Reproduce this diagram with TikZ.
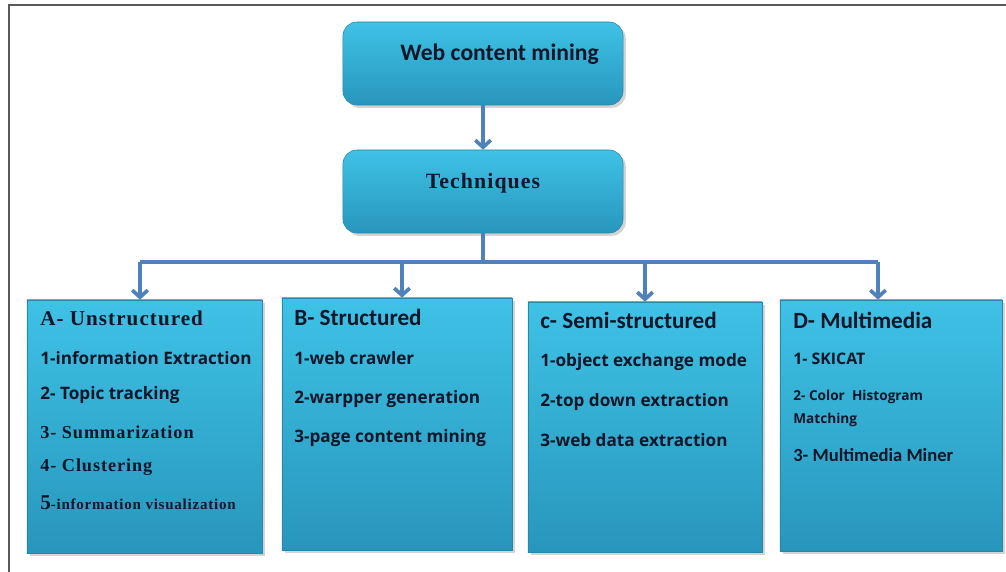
\documentclass[tikz,border=0pt]{standalone}
\usepackage{fontspec}
\usepackage{tikz}
\usetikzlibrary{arrows.meta}
\usetikzlibrary{shadows}
\newfontfamily\calib{Carlito}
\newfontfamily\opsans{Open Sans}
\newfontfamily\timesw[LetterSpace=5]{Liberation Serif}
\definecolor{boxtop}{RGB}{62,194,230}
\definecolor{boxbot}{RGB}{40,150,188}
\definecolor{boxedge}{RGB}{38,135,170}
\definecolor{linkblue}{RGB}{79,129,189}
\definecolor{ink}{RGB}{14,22,40}

\begin{document}
\begin{tikzpicture}[x=0.025cm,y=-0.025cm,
  box/.style={draw=boxedge,line width=0.4pt,top color=boxtop,bottom color=boxbot,
    drop shadow={shadow xshift=2pt,shadow yshift=-2pt,opacity=0.35}},
  topbox/.style={box,rounded corners=0.35cm,minimum width=7cm,minimum height=2.075cm},
  link/.style={draw=linkblue,line width=2.6pt},
  arr/.style={link,-{Straight Barb[length=5pt,width=11pt,line width=2.6pt]}},
  item/.style={anchor=west,inner sep=0pt,text=ink,font=\opsans\bfseries\fontsize{12.2}{14}\selectfont},
  head/.style={anchor=west,inner sep=0pt,text=ink,font=\calib\bfseries\fontsize{16.5}{19}\selectfont},
  serif/.style={anchor=west,inner sep=0pt,text=ink,font=\timesw\bfseries\fontsize{13}{15}\selectfont}]
\useasboundingbox (0,0) rectangle (1006,572);
\draw[gray!70!black,line width=1pt] (9,572) -- (9,5) -- (1006,5);

\node[topbox] (web) at (483,63.5) {};
\node[anchor=west,inner sep=0pt,text=ink,font=\calib\bfseries\fontsize{16.8}{19}\selectfont] (webtxt) at (400,54) {Web content mining};
\node[topbox] (tech) at (483,191.5) {};
\node[anchor=center,inner sep=0pt,text=ink,font=\timesw\bfseries\fontsize{15.5}{18}\selectfont] (techtxt) at (483,183) {Techniques};
\draw[arr] (web.south) -- (tech.north);

\node[box,minimum width=5.875cm,minimum height=6.325cm] (unstr) at (144.5,426.5) {};
\node[box,minimum width=5.75cm,minimum height=6.3cm] (str) at (397,424) {};
\node[box,minimum width=5.85cm,minimum height=6.25cm] (semi) at (645,427) {};
\node[box,minimum width=5.55cm,minimum height=6.275cm] (multi) at (891,425.5) {};

\coordinate (ta) at (140,262);
\coordinate (tb) at (402,262);
\coordinate (tc) at (645,262);
\coordinate (td) at (878,262);
\coordinate (hub) at (tech.south |- ta);
\draw[link] (tech.south) -- (hub);
\draw[link] (ta) -- (td);
\draw[arr] (ta) -- (unstr.north -| ta);
\draw[arr] (tb) -- (str.north -| tb);
\draw[arr] (tc) -- (semi.north -| tc);
\draw[arr] (td) -- (multi.north -| td);

\node[serif,font=\timesw\bfseries\fontsize{15}{18}\selectfont] (ahead) at (40,318) {A- Unstructured};
\node[item] (a1) at (40,358) {1-information Extraction};
\node[item] (a2) at (40,395) {2- Topic tracking};
\node[serif] (a3) at (40,432) {3- Summarization};
\node[serif] (a4) at (40,467) {4- Clustering};
\node[serif,font=\timesw\bfseries\fontsize{10.7}{12}\selectfont] (a5) at (40,503) {{\fontsize{15}{15}\selectfont 5}-information visualization};

\node[head] (bhead) at (294,317) {B- Structured};
\node[item] (b1) at (294,358) {1-web crawler};
\node[item] (b2) at (294,399) {2-warpper generation};
\node[item] (b3) at (294,438) {3-page content mining};

\node[head] (chead) at (540,320) {c- Semi-structured};
\node[item] (c1) at (540,362) {1-object exchange mode};
\node[item] (c2) at (540,402) {2-top down extraction};
\node[item] (c3) at (540,440) {3-web data extraction};

\node[head] (dhead) at (793,320) {D- Multimedia};
\node[item,font=\opsans\bfseries\fontsize{11.3}{13}\selectfont] (d1) at (793,359) {1- SKICAT};
\node[item,font=\opsans\bfseries\fontsize{9.7}{11}\selectfont] (d2) at (793,397) {2- Color\ \ Histogram};
\node[item,font=\opsans\bfseries\fontsize{9.7}{11}\selectfont] (d2b) at (793,420) {Matching};
\node[item,font=\calib\bfseries\fontsize{13.2}{15}\selectfont] (d3) at (793,455) {3- Multimedia Miner};
\end{tikzpicture}
\end{document}
